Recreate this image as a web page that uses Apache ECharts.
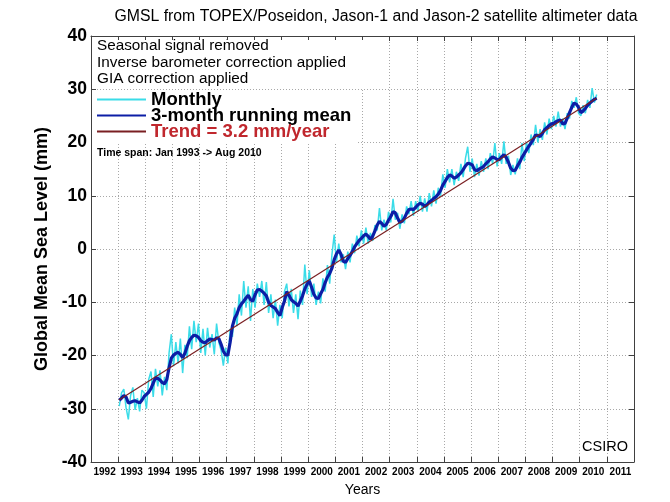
<!DOCTYPE html>
<html><head><meta charset="utf-8">
<script src="https://cdn.jsdelivr.net/npm/echarts@6.0.0/dist/echarts.min.js"></script>
<style>html,body{margin:0;padding:0;background:#fff}#c{width:670px;height:502px}</style>
</head><body><div id="c"></div>
<script>
// ---------------- data ----------------
const yearLabels = ['1992','1993','1994','1995','1996','1997','1998','1999','2000','2001','2002','2003','2004','2005','2006','2007','2008','2009','2010','2011'];
const startYear = 1993; // first month: Jan 1993, last: Aug 2010
const monthlyValues = [
  -29.5,-27.0,-26.3,-29.8,-32.0,-27.5,-26.0,-30.2,-28.0,-30.5,-26.5,-27.0, // 1993
  -30.0,-24.5,-23.0,-27.8,-22.5,-25.8,-22.8,-27.5,-24.0,-26.5,-19.5,-16.0, // 1994
  -22.0,-17.5,-21.5,-16.8,-23.3,-18.0,-20.5,-14.5,-18.8,-13.5,-17.5,-14.0, // 1995
  -19.5,-15.0,-20.0,-14.8,-18.5,-16.0,-19.8,-14.0,-17.5,-19.0,-21.9,-18.5, // 1996
  -21.5,-15.0,-16.5,-11.0,-14.5,-8.5,-12.5,-6.0,-11.0,-7.0,-13.5,-7.5,     // 1997
  -11.0,-6.5,-9.0,-6.0,-10.5,-6.2,-12.0,-8.5,-13.0,-9.5,-14.4,-10.5,       // 1998
  -13.0,-8.0,-6.5,-10.8,-7.5,-12.0,-8.5,-13.2,-7.8,-10.5,-2.9,-8.5,        // 1999
  -4.0,-9.0,-6.5,-10.5,-8.0,-10.2,-5.5,-8.0,-3.0,-6.5,-1.0,2.7,            // 2000
  -2.5,1.0,-2.5,-1.0,-3.8,-0.5,-2.5,1.0,-0.8,2.5,0.5,3.5,                  // 2001
  1.0,4.0,1.0,3.0,1.5,4.5,3.5,7.7,3.5,5.5,3.5,7.0,                         // 2002
  5.0,9.4,5.5,6.8,3.8,6.5,4.8,8.0,6.5,9.0,6.2,9.0,                         // 2003
  7.0,10.0,7.0,9.5,7.0,10.5,8.0,11.0,8.5,11.5,10.0,14.0,                   // 2004
  11.5,15.0,12.5,15.0,12.0,14.5,12.8,16.0,13.5,17.0,19.2,14.5,             // 2005
  17.0,13.5,16.0,13.8,16.5,14.5,17.0,15.0,18.0,16.0,19.9,15.5,             // 2006
  18.0,16.0,20.2,16.0,17.5,13.9,15.8,14.0,17.0,15.0,19.9,16.5,             // 2007
  20.0,18.0,21.5,19.5,23.3,20.0,22.5,20.5,23.8,21.5,24.5,22.5,             // 2008
  25.0,23.0,25.8,23.0,24.5,22.5,25.5,24.5,27.8,26.5,28.5,25.5,             // 2009
  25.0,27.0,25.5,28.0,26.5,30.2,27.5,29.0                                  // 2010
];
const meanValues = [
  -28.4,-28.0,-27.5,-27.8,-28.9,-28.8,-28.6,-28.5,-28.7,-28.9,-28.4,-27.7, // 1993
  -27.3,-26.9,-26.2,-25.2,-24.2,-24.3,-24.6,-25.1,-25.3,-24.5,-22.3,-20.5, // 1994
  -19.9,-19.6,-19.4,-19.8,-20.4,-19.6,-18.3,-17.2,-16.6,-16.2,-16.3,-16.6, // 1995
  -17.2,-17.5,-17.6,-17.2,-16.9,-17.0,-17.1,-16.7,-16.8,-17.9,-19.2,-19.9, // 1996
  -19.9,-17.5,-14.5,-13.0,-12.2,-11.0,-10.3,-9.8,-9.2,-8.7,-9.5,-9.8,      // 1997
  -8.6,-7.7,-7.6,-7.9,-8.3,-8.8,-10.0,-10.6,-10.9,-11.2,-11.9,-12.5,       // 1998
  -11.0,-9.8,-8.0,-8.7,-9.5,-9.9,-10.2,-10.7,-9.8,-8.8,-7.5,-6.6,          // 1999
  -6.0,-7.2,-8.5,-9.2,-9.3,-8.4,-7.6,-6.3,-5.3,-4.6,-3.6,-2.0,             // 2000
  -0.9,-0.2,-1.0,-2.3,-2.5,-1.8,-1.2,-0.5,0.4,1.0,1.6,2.0,                 // 2001
  2.5,2.8,2.4,1.8,2.4,3.4,4.5,5.2,4.8,4.3,4.6,5.4,                         // 2002
  6.1,7.0,6.8,5.8,5.0,5.2,5.8,6.7,7.4,7.5,7.4,7.8,                         // 2003
  8.3,8.6,8.4,8.0,8.3,8.8,9.1,9.5,9.8,10.3,11.0,12.0,                      // 2004
  12.7,13.4,13.9,13.7,13.3,13.5,13.9,14.3,14.9,15.6,16.1,16.0,             // 2005
  15.8,14.9,14.7,15.0,15.2,15.5,16.0,16.4,16.9,17.3,17.1,16.8,             // 2006
  16.8,17.3,17.7,17.2,16.3,15.2,14.7,14.8,15.6,16.3,17.2,17.9,             // 2007
  18.6,19.3,19.9,20.6,21.4,21.3,21.1,21.7,22.4,22.8,23.2,23.5,             // 2008
  23.6,23.9,24.1,24.2,23.5,23.6,24.6,25.6,26.6,27.4,27.2,26.6,             // 2009
  25.6,25.9,26.4,27.0,27.4,27.8,28.1,28.3                                  // 2010
];
const trendYears = [1993.04, 2010.62];
const trendValues = [-28.3, 28.3];
const seriesNames = ['Monthly', '3-month running mean', 'Trend = 3.2 mm/year'];
const noteLines = ['Seasonal signal removed', 'Inverse barometer correction applied', 'GIA correction applied'];
const titleText = 'GMSL from TOPEX/Poseidon, Jason-1 and Jason-2 satellite altimeter data';
const spanText = 'Time span: Jan 1993 -> Aug 2010';
const sourceText = 'CSIRO';

// ---------------- chart ----------------
const FONT = '"Liberation Sans", Arial, Helvetica, sans-serif';
const toPairs = vals => vals.map((v, i) => [startYear + (i + 0.5) / 12, v]);
const AX = '#404040';
const GRID = '#a8a8a8';

const chart = echarts.init(document.getElementById('c'), null, {renderer: 'canvas'});
chart.setOption({
  animation: false,
  backgroundColor: '#fff',
  textStyle: {fontFamily: FONT},
  grid: {left: 91, right: 36, top: 36, bottom: 39, containLabel: false},
  legend: {
    orient: 'vertical', left: 92, top: 90,
    padding: [0, 6, 2, 4], itemGap: -3, itemWidth: 49, itemHeight: 14,
    backgroundColor: '#fff', borderWidth: 0,
    itemStyle: {opacity: 0},
    textStyle: {fontSize: 18.5, fontWeight: 'bold', color: '#000', fontFamily: FONT},
    data: [
      {name: seriesNames[0]},
      {name: seriesNames[1]},
      {name: seriesNames[2], textStyle: {color: '#c0272d'}}
    ],
    selectedMode: false
  },
  xAxis: [
    {
      type: 'category', data: yearLabels, position: 'bottom', boundaryGap: true,
      axisLine: {show: true, onZero: false, lineStyle: {color: AX, width: 1}},
      axisTick: {show: true, inside: true, length: 5, interval: 0, lineStyle: {color: AX}},
      axisLabel: {show: true, interval: 0, margin: 5, fontSize: 10, fontWeight: 'bold', color: '#000', fontFamily: FONT},
      splitLine: {show: true, interval: 0, lineStyle: {type: [1, 2], color: GRID, width: 1}},
      name: 'Years', nameLocation: 'middle', nameGap: 21,
      nameTextStyle: {fontSize: 14, color: '#000', fontFamily: FONT}
    },
    {
      type: 'value', position: 'top', min: 1992, max: 2012, interval: 1,
      axisLine: {show: true, onZero: false, lineStyle: {color: AX, width: 1}},
      axisTick: {show: true, inside: true, length: 5, lineStyle: {color: AX}},
      axisLabel: {show: false}, splitLine: {show: false}
    }
  ],
  yAxis: [
    {
      type: 'value', position: 'left', min: -40, max: 40, interval: 10,
      axisLine: {show: true, onZero: false, lineStyle: {color: AX, width: 1}},
      axisTick: {show: true, inside: true, length: 5, lineStyle: {color: AX}},
      axisLabel: {show: true, margin: 4, fontSize: 17.5, fontWeight: 'bold', color: '#000', fontFamily: FONT},
      splitLine: {show: true, lineStyle: {type: [1, 2], color: GRID, width: 1}},
      name: 'Global Mean Sea Level (mm)', nameLocation: 'middle', nameGap: 40, nameRotate: 90,
      nameTextStyle: {fontSize: 18, fontWeight: 'bold', color: '#000', fontFamily: FONT}
    },
    {
      type: 'value', position: 'right', min: -40, max: 40, interval: 10,
      axisLine: {show: true, onZero: false, lineStyle: {color: AX, width: 1}},
      axisTick: {show: true, inside: true, length: 5, lineStyle: {color: AX}},
      axisLabel: {show: false}, splitLine: {show: false}
    }
  ],
  series: [
    {
      type: 'line', name: seriesNames[0], xAxisIndex: 1, yAxisIndex: 0,
      data: toPairs(monthlyValues), symbol: 'none', z: 2,
      lineStyle: {color: '#3adce8', width: 1.5}, itemStyle: {color: '#3adce8'}
    },
    {
      type: 'line', name: seriesNames[1], xAxisIndex: 1, yAxisIndex: 0,
      data: toPairs(meanValues), symbol: 'none', z: 3,
      lineStyle: {color: '#0c1ea6', width: 3.2}, itemStyle: {color: '#0c1ea6'}
    },
    {
      type: 'line', name: seriesNames[2], xAxisIndex: 1, yAxisIndex: 0,
      data: trendYears.map((t, i) => [t, trendValues[i]]), symbol: 'none', z: 4,
      lineStyle: {color: '#7a1f22', width: 1.2}, itemStyle: {color: '#7a1f22'}
    }
  ],
  graphic: [
    {type: 'text', x: 376, y: 17, z: 10,
     style: {text: titleText, fontSize: 15.8, fontFamily: FONT, fill: '#000', align: 'center', verticalAlign: 'middle'}},
    {type: 'rect', shape: {x: 92, y: 40, width: 276, height: 48}, z: 10, style: {fill: '#fff'}},
    {type: 'text', x: 97, y: 46, z: 11,
     style: {text: noteLines[0], fontSize: 15.3, fontFamily: FONT, fill: '#000', align: 'left', verticalAlign: 'middle'}},
    {type: 'text', x: 97, y: 62.5, z: 11,
     style: {text: noteLines[1], fontSize: 15.3, fontFamily: FONT, fill: '#000', align: 'left', verticalAlign: 'middle'}},
    {type: 'text', x: 97, y: 79, z: 11,
     style: {text: noteLines[2], fontSize: 15.3, fontFamily: FONT, fill: '#000', align: 'left', verticalAlign: 'middle'}},
    {type: 'text', x: 97, y: 153, z: 11,
     style: {text: spanText, fontSize: 10.5, fontWeight: 'bold', fontFamily: FONT, fill: '#000', align: 'left', verticalAlign: 'middle'}},
    {type: 'text', x: 605, y: 447, z: 11,
     style: {text: sourceText, fontSize: 14.5, fontFamily: FONT, fill: '#000', align: 'center', verticalAlign: 'middle'}}
  ]
});
</script>
</body></html>
